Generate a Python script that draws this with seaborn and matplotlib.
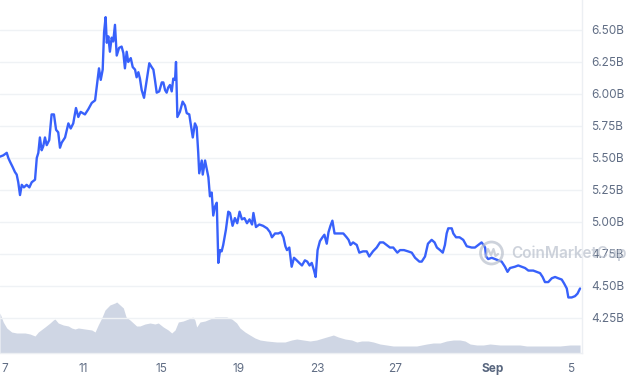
import pandas as pd
import matplotlib
matplotlib.use('Agg')
import matplotlib.pyplot as plt
from matplotlib.patches import Ellipse
from matplotlib.lines import Line2D
import seaborn as sns

sns.set_style('white')
plt.rcParams['font.family'] = ['Inter', 'DejaVu Sans']

# Market cap (billions USD), time in days after Aug 7
start = pd.Timestamp('2022-08-07')

price_days = [
    -0.26, -0.09, 0.09, 0.17, 0.26, 0.39, 0.51, 0.60, 0.68, 0.77,
    0.86, 0.97, 1.11, 1.25, 1.37, 1.54, 1.63, 1.71, 1.79, 1.88,
    1.96, 2.05, 2.14, 2.27, 2.39, 2.51, 2.62, 2.73, 2.82, 2.91,
    3.08, 3.25, 3.37, 3.50, 3.64, 3.76, 3.88, 4.10, 4.27, 4.45,
    4.62, 4.70, 4.82, 4.91, 5.01, 5.08, 5.16, 5.22, 5.30, 5.38,
    5.47, 5.55, 5.64, 5.73, 5.85, 5.98, 6.07, 6.15, 6.24, 6.32,
    6.45, 6.55, 6.67, 6.75, 6.84, 6.92, 7.01, 7.13, 7.27, 7.40,
    7.52, 7.61, 7.69, 7.78, 7.91, 8.04, 8.12, 8.21, 8.29, 8.37,
    8.46, 8.55, 8.63, 8.72, 8.77, 8.84, 8.97, 9.11, 9.23, 9.32,
    9.45, 9.57, 9.63, 9.74, 9.83, 9.91, 9.96, 10.09, 10.14, 10.26,
    10.34, 10.43, 10.51, 10.60, 10.68, 10.77, 10.86, 10.94, 11.03, 11.11,
    11.19, 11.33, 11.45, 11.54, 11.67, 11.79, 11.91, 12.03, 12.15, 12.28,
    12.41, 12.54, 12.67, 12.74, 12.87, 13.04, 13.23, 13.44, 13.59, 13.69,
    13.85, 14.02, 14.15, 14.28, 14.38, 14.46, 14.58, 14.70, 14.82, 14.96,
    15.09, 15.23, 15.38, 15.50, 15.62, 15.73, 15.85, 15.93, 16.03, 16.15,
    16.28, 16.38, 16.50, 16.59, 16.69, 16.79, 16.90, 17.03, 17.18, 17.35,
    17.52, 17.62, 17.72, 17.85, 18.04, 18.17, 18.36, 18.55, 18.68, 18.87,
    19.06, 19.23, 19.40, 19.57, 19.74, 19.91, 20.12, 20.26, 20.46, 20.67,
    20.86, 21.03, 21.25, 21.37, 21.54, 21.69, 21.88, 22.03, 22.15, 22.31,
    22.45, 22.56, 22.65, 22.73, 22.91, 22.99, 23.13, 23.31, 23.50, 23.68,
    23.93, 24.10, 24.27, 24.44, 24.54, 24.62, 24.67, 24.78, 24.96, 25.13,
    25.30, 25.47, 25.64, 25.77, 25.90, 26.15, 26.32, 26.50, 26.67, 26.84,
    27.09, 27.27, 27.44, 27.57, 27.69, 27.86, 28.04, 28.21, 28.37, 28.55,
    28.67, 28.81, 28.89, 29.06, 29.23, 29.36, 29.49,
]

market_cap = [
    5.51, 5.52, 5.54, 5.50, 5.47, 5.43, 5.39, 5.37, 5.31, 5.21,
    5.29, 5.27, 5.29, 5.27, 5.31, 5.33, 5.50, 5.54, 5.66, 5.56,
    5.59, 5.66, 5.60, 5.64, 5.84, 5.84, 5.72, 5.70, 5.58, 5.62,
    5.66, 5.77, 5.73, 5.77, 5.89, 5.82, 5.86, 5.84, 5.88, 5.93,
    5.95, 6.05, 6.20, 6.11, 6.19, 6.48, 6.60, 6.40, 6.45, 6.33,
    6.44, 6.41, 6.54, 6.30, 6.36, 6.37, 6.32, 6.20, 6.33, 6.25,
    6.28, 6.21, 6.19, 6.13, 6.17, 6.12, 6.03, 5.97, 6.11, 6.24,
    6.21, 6.19, 6.11, 6.01, 6.02, 6.09, 6.09, 6.03, 6.01, 6.05,
    6.07, 6.02, 6.12, 6.11, 6.25, 5.82, 5.86, 5.94, 5.91, 5.85,
    5.84, 5.72, 5.66, 5.77, 5.74, 5.54, 5.38, 5.48, 5.37, 5.48,
    5.42, 5.35, 5.20, 5.23, 5.05, 5.12, 5.15, 4.68, 4.78, 4.77,
    4.82, 4.94, 5.08, 5.07, 4.97, 5.03, 4.99, 5.08, 5.02, 5.03,
    4.99, 5.02, 4.98, 5.07, 4.96, 4.98, 4.97, 4.95, 4.92, 4.88,
    4.91, 4.91, 4.92, 4.88, 4.81, 4.78, 4.80, 4.65, 4.72, 4.70,
    4.68, 4.66, 4.70, 4.69, 4.66, 4.68, 4.62, 4.57, 4.78, 4.85,
    4.88, 4.90, 4.83, 4.92, 4.97, 5.01, 4.91, 4.91, 4.91, 4.91,
    4.88, 4.86, 4.82, 4.84, 4.82, 4.76, 4.77, 4.77, 4.73, 4.77,
    4.80, 4.84, 4.84, 4.82, 4.80, 4.80, 4.76, 4.78, 4.78, 4.77,
    4.76, 4.72, 4.69, 4.69, 4.73, 4.83, 4.86, 4.84, 4.80, 4.78,
    4.76, 4.82, 4.91, 4.95, 4.95, 4.91, 4.88, 4.88, 4.86, 4.81,
    4.80, 4.80, 4.82, 4.84, 4.82, 4.80, 4.73, 4.71, 4.72, 4.71,
    4.70, 4.69, 4.65, 4.61, 4.64, 4.65, 4.66, 4.65, 4.64, 4.62,
    4.62, 4.61, 4.60, 4.57, 4.53, 4.53, 4.56, 4.57, 4.56, 4.55,
    4.52, 4.48, 4.41, 4.41, 4.42, 4.44, 4.48,
]

# Volume (billions USD, only shape matters: no axis shown)
volume_days = [
    -0.26, -0.09, 0.09, 0.34, 0.60, 1.03, 1.28, 1.54, 1.71, 2.05,
    2.31, 2.48, 2.56, 2.73, 2.99, 3.25, 3.42, 3.59, 3.76, 4.10,
    4.45, 4.62, 4.78, 4.96, 5.13, 5.38, 5.64, 5.73, 5.90, 6.07,
    6.21, 6.41, 6.58, 6.75, 6.92, 7.18, 7.44, 7.69, 7.86, 8.12,
    8.37, 8.55, 8.72, 8.89, 9.14, 9.40, 9.63, 9.74, 9.83, 10.00,
    10.26, 10.51, 10.77, 11.03, 11.37, 11.63, 11.88, 12.05, 12.31, 12.56,
    12.82, 13.08, 13.42, 13.93, 14.36, 14.70, 14.96, 15.30, 15.64, 15.98,
    16.32, 16.67, 16.84, 17.09, 17.44, 17.78, 18.04, 18.29, 18.63, 18.89,
    19.23, 19.57, 19.91, 20.26, 20.77, 21.11, 21.63, 21.96, 22.31, 22.65,
    22.99, 23.33, 23.59, 23.85, 24.19, 24.53, 24.87, 25.38, 25.90, 26.41,
    26.75, 27.27, 27.78, 28.12, 28.46, 28.97, 29.49,
]

volume = [
    0.80, 0.62, 0.50, 0.42, 0.40, 0.40, 0.38, 0.34, 0.42, 0.52,
    0.60, 0.66, 0.68, 0.60, 0.56, 0.54, 0.50, 0.48, 0.50, 0.48,
    0.46, 0.42, 0.56, 0.70, 0.86, 0.96, 1.00, 1.02, 0.96, 0.90,
    0.72, 0.66, 0.60, 0.54, 0.54, 0.58, 0.60, 0.58, 0.60, 0.52,
    0.46, 0.40, 0.46, 0.62, 0.64, 0.68, 0.72, 0.66, 0.52, 0.62,
    0.64, 0.68, 0.72, 0.72, 0.72, 0.68, 0.60, 0.50, 0.42, 0.36,
    0.30, 0.26, 0.24, 0.22, 0.22, 0.26, 0.28, 0.26, 0.24, 0.26,
    0.30, 0.34, 0.36, 0.32, 0.28, 0.26, 0.22, 0.24, 0.24, 0.22,
    0.18, 0.16, 0.14, 0.14, 0.14, 0.14, 0.18, 0.20, 0.20, 0.24,
    0.26, 0.26, 0.24, 0.18, 0.16, 0.16, 0.18, 0.16, 0.16, 0.16,
    0.14, 0.14, 0.14, 0.14, 0.14, 0.16, 0.16,
]

tick_days = [0, 4, 8, 12, 16, 20, 25, 29]
tick_labels = ['7', '11', '15', '19', '23', '27', 'Sep', '5']
y_ticks = [4.25, 4.50, 4.75, 5.00, 5.25, 5.50, 5.75, 6.00, 6.25, 6.50]

price_df = pd.DataFrame({'time': start + pd.to_timedelta(price_days, unit='D'),
                         'cap': market_cap})
vol_df = pd.DataFrame({'time': start + pd.to_timedelta(volume_days, unit='D'),
                       'vol': volume})

fig = plt.figure(figsize=(6.3, 3.8), dpi=100)
ax = fig.add_axes([0, 27 / 380, 582 / 630, 353 / 380])

# volume area on a hidden twin axis, kept behind the price line
ax_vol = ax.twinx()
ax_vol.fill_between(vol_df['time'], vol_df['vol'], color='#cfd6e4', lw=0)
ax_vol.set_ylim(0, 7.06)
ax_vol.axis('off')
ax.set_zorder(ax_vol.get_zorder() + 1)
ax.patch.set_visible(False)

sns.lineplot(data=price_df, x='time', y='cap', ax=ax, color='#3861fb', lw=1.7)

ax.set_xlim(start + pd.Timedelta(days=-0.256), start + pd.Timedelta(days=29.59))
ax.set_ylim(3.976, 6.734)

ax.yaxis.tick_right()
ax.set_yticks(y_ticks)
ax.set_yticklabels([f'{v:.2f}B' for v in y_ticks])
ax.set_xticks([start + pd.Timedelta(days=d) for d in tick_days])
ax.set_xticklabels(tick_labels)
ax.set_xlabel('')
ax.set_ylabel('')

ax.grid(axis='y', color='#eff2f5', lw=1)
ax.tick_params(axis='y', length=0, pad=6.5, labelsize=8.5, labelcolor='#616e85')
ax.tick_params(axis='x', length=3, width=0.8, color='#e3e6ea', pad=4,
               labelsize=8.5, labelcolor='#616e85')
for lbl in ax.get_xticklabels():
    if lbl.get_text() == 'Sep':
        lbl.set_fontweight('bold')
        lbl.set_color('#58667e')

sns.despine(ax=ax, left=True, top=True, right=False, bottom=False)
for side in ['right', 'bottom']:
    ax.spines[side].set_color('#eceff3')
    ax.spines[side].set_linewidth(1)

# CoinMarketCap watermark
wm_color = '#b9c0cc'
cx, cy = 491.5 / 630, 1 - 253 / 380
fig.add_artist(Ellipse((cx, cy), 22 / 630, 22 / 380, transform=fig.transFigure,
                       fill=False, ec=wm_color, lw=2, alpha=0.7, zorder=10))
fig.add_artist(Line2D([cx - 6 / 630, cx - 3.5 / 630, cx - 0.5 / 630, cx + 2 / 630,
                       cx + 4 / 630, cx + 6.5 / 630],
                      [cy - 4 / 380, cy + 4 / 380, cy - 2 / 380, cy + 4 / 380,
                       cy - 3 / 380, cy - 1 / 380],
                      transform=fig.transFigure, color=wm_color, lw=1.6,
                      alpha=0.7, zorder=10))
fig.text(511 / 630, cy, 'CoinMarketCap', fontsize=11, fontweight='semibold',
         color=wm_color, alpha=0.7, va='center', ha='left', zorder=10)

fig.savefig('out.png', dpi=100)
